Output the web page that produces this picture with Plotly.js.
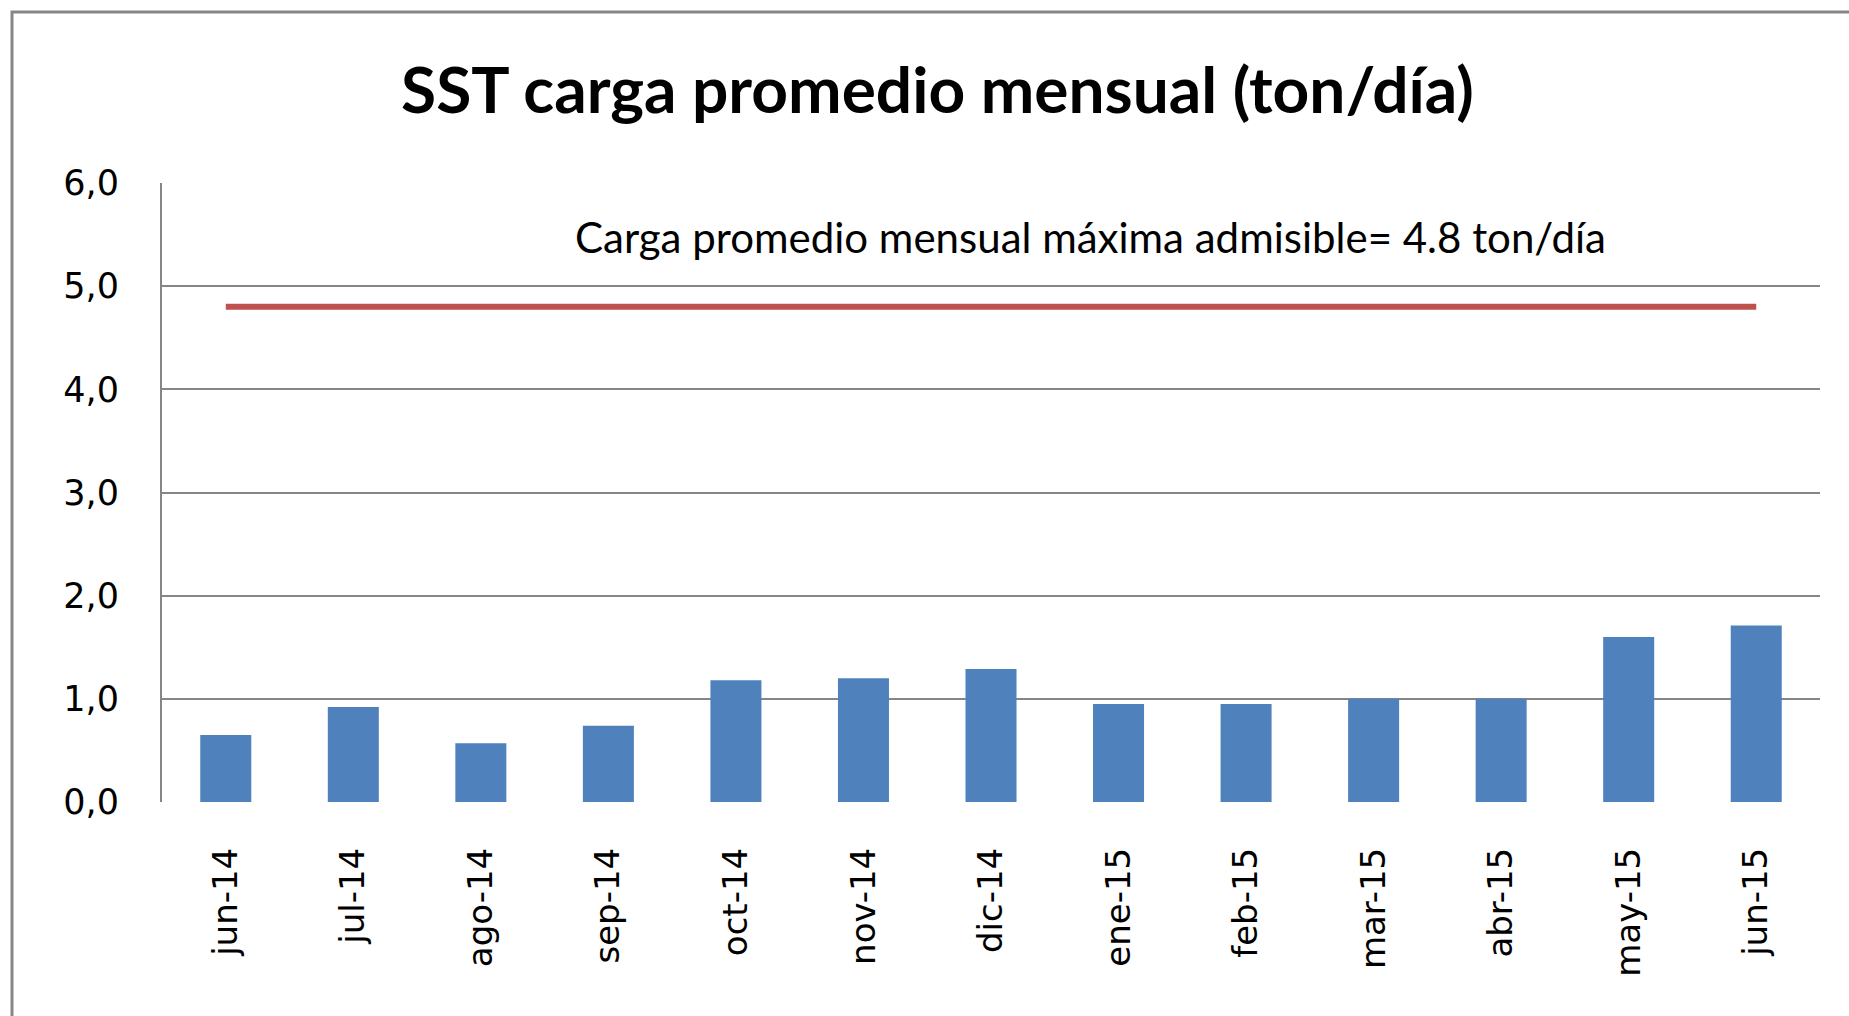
<!DOCTYPE html>
<html>
<head>
<meta charset="utf-8">
<script src="https://cdn.plot.ly/plotly-3.0.1.min.js"></script>
<style>
html,body{margin:0;padding:0;background:#fff;}
#chart{width:1849px;height:1016px;}
</style>
</head>
<body>
<div id="chart"></div>
<script>
const months = ["jun-14","jul-14","ago-14","sep-14","oct-14","nov-14","dic-14","ene-15","feb-15","mar-15","abr-15","may-15","jun-15"];
const cargaSST = [0.65, 0.92, 0.57, 0.74, 1.18, 1.20, 1.29, 0.95, 0.95, 1.00, 1.00, 1.60, 1.71];
const cargaMaxima = [4.8, 4.8, 4.8, 4.8, 4.8, 4.8, 4.8, 4.8, 4.8, 4.8, 4.8, 4.8, 4.8];
const yTicks = [0, 1, 2, 3, 4, 5, 6];
const titleText = "SST carga promedio mensual (ton/día)";
const limitLabel = "Carga promedio mensual máxima admisible= 4.8 ton/día";

const traces = [
  {
    type: "bar",
    x: months,
    y: cargaSST,
    marker: {color: "#4F81BD"},
    hoverinfo: "x+y",
    showlegend: false
  },
  {
    type: "scatter",
    mode: "lines",
    x: months,
    y: cargaMaxima,
    line: {color: "#C0504D", width: 6},
    hoverinfo: "y",
    showlegend: false
  }
];

const layout = {
  width: 1849,
  height: 1016,
  paper_bgcolor: "#ffffff",
  plot_bgcolor: "#ffffff",
  separators: ",.",
  margin: {l: 162, r: 29, t: 183, b: 214},
  bargap: 0.6,
  title: {
    text: "<b>" + titleText + "</b>",
    font: {family: "Lato, 'DejaVu Sans', sans-serif", size: 64, color: "#000000"},
    x: 0.507,
    xref: "container",
    xanchor: "center",
    y: 1 - 91 / 1016,
    yref: "container",
    yanchor: "middle"
  },
  xaxis: {
    type: "category",
    tickangle: -90,
    showgrid: false,
    showline: false,
    zeroline: false,
    ticks: "",
    ticklabelstandoff: 38,
    tickfont: {family: "'DejaVu Sans', Verdana, sans-serif", size: 34, color: "#000000"}
  },
  yaxis: {
    range: [0, 6],
    tickvals: yTicks,
    tickformat: ".1f",
    showgrid: true,
    gridcolor: "#868686",
    gridwidth: 2,
    showline: true,
    linecolor: "#868686",
    linewidth: 2,
    zeroline: false,
    ticks: "",
    ticklabelstandoff: 34,
    tickfont: {family: "'DejaVu Sans', Verdana, sans-serif", size: 35, color: "#000000"}
  },
  annotations: [
    {
      text: limitLabel,
      xref: "paper",
      yref: "y",
      x: 0.56,
      y: 5.48,
      xanchor: "center",
      yanchor: "middle",
      showarrow: false,
      font: {family: "Lato, 'DejaVu Sans', sans-serif", size: 42, color: "#000000"}
    }
  ],
  shapes: [
    {
      type: "rect",
      xref: "paper",
      yref: "paper",
      x0: (12 - 162) / 1658,
      x1: 1.2,
      y0: -0.6,
      y1: (802 - 12) / 619,
      line: {color: "#868686", width: 3},
      fillcolor: "rgba(0,0,0,0)",
      layer: "below"
    }
  ]
};

Plotly.newPlot("chart", traces, layout, {displayModeBar: false, staticPlot: true});
</script>
</body>
</html>
